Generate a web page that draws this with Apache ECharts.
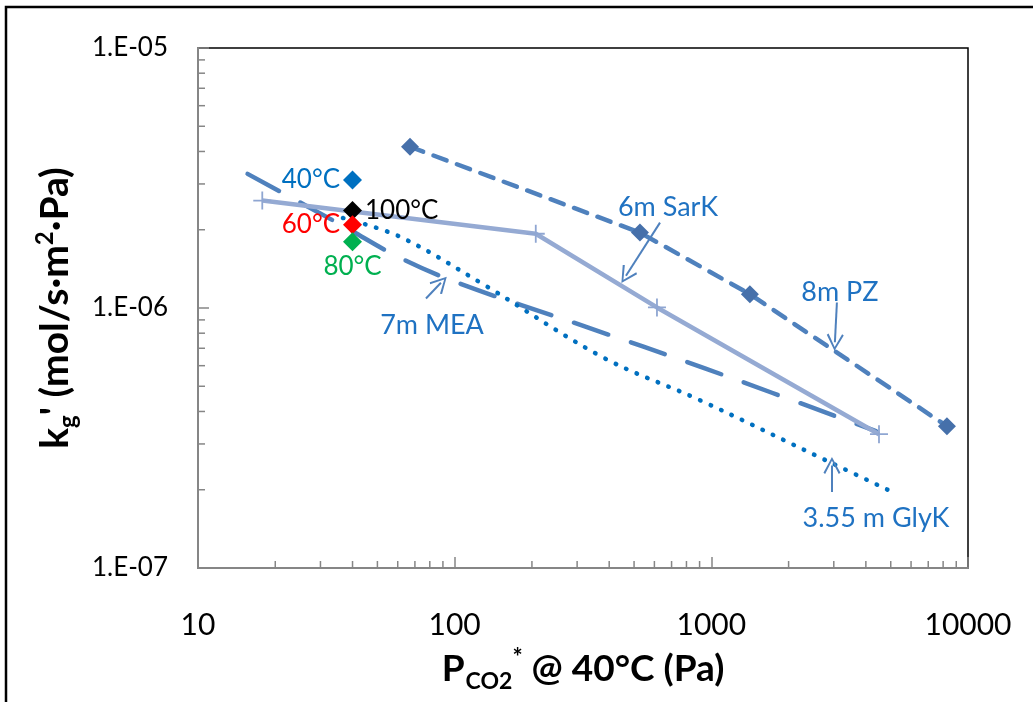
<!DOCTYPE html>
<html>
<head>
<meta charset="utf-8">
<script src="https://cdn.jsdelivr.net/npm/echarts@6/dist/echarts.min.js"></script>
<style>
  html, body { margin: 0; padding: 0; background: #fff; }
  #chart { width: 1033px; height: 702px; }
</style>
</head>
<body>
<div id="chart"></div>
<script>
// 8m PZ
const pzX = [67, 527, 1413, 8280];
const pzY = [4.17e-6, 1.95e-6, 1.13e-6, 3.51e-7];
// 6m SarK
const sarkX = [17.8, 207, 614, 4500];
const sarkY = [2.59e-6, 1.93e-6, 1.005e-6, 3.27e-7];
// 7m MEA
const meaX = [15.6, 36.7, 61.2, 105, 313, 944, 4380];
const meaY = [3.28e-6, 2.07e-6, 1.56e-6, 1.24e-6, 8.57e-7, 5.86e-7, 3.36e-7];
// 3.55 m GlyK
const glyX = [36.7, 61.2, 128, 378, 903, 2900, 5190];
const glyY = [2.22e-6, 1.88e-6, 1.24e-6, 6.46e-7, 4.42e-7, 2.55e-7, 1.94e-7];

// temperature points at 40 Pa
const tempNames = ['40°C', '100°C', '60°C', '80°C'];
const tempX = [40, 40, 40, 40];
const tempY = [3.11e-6, 2.37e-6, 2.09e-6, 1.80e-6];

// annotation texts and arrows (data units)
const noteText = ['6m SarK', '7m MEA', '8m PZ', '3.55 m GlyK'];
const noteX = [678, 81.6, 3170, 4380];
const noteY = [2.45e-6, 8.57e-7, 1.147e-6, 1.556e-7];
const arrowFrom = [[631, 2.13e-6], [77.3, 1.088e-6], [3085, 1.05e-6], [2951, 1.96e-7]];
const arrowTo = [[465, 1.33e-6], [88.4, 1.25e-6], [3030, 7.38e-7], [2951, 2.48e-7]];

const xMin = 10, xMax = 10000, yMin = 1e-7, yMax = 1e-5;
const minorX = [20, 30, 40, 50, 60, 70, 80, 90, 200, 300, 400, 500, 600, 700, 800, 900,
  2000, 3000, 4000, 5000, 6000, 7000, 8000, 9000];
const minorY = [2e-7, 3e-7, 4e-7, 5e-7, 6e-7, 7e-7, 8e-7, 9e-7,
  2e-6, 3e-6, 4e-6, 5e-6, 6e-6, 7e-6, 8e-6, 9e-6];

const tempColors = { '40°C': '#0070C0', '100°C': '#000000', '60°C': '#FF0000', '80°C': '#00B050' };
const tempLabelPos = { '40°C': 'left', '100°C': 'right', '60°C': 'left', '80°C': 'bottom' };

const FONT = 'Lato, "Open Sans", sans-serif';
const axisGray = '#868686';

const zip = (xs, ys) => xs.map((x, i) => [x, ys[i]]);

const chart = echarts.init(document.getElementById('chart'), null, { renderer: 'canvas' });

const plusPath = 'path://M9,0h2v9h9v2h-9v9h-2v-9h-9v-2h9z';
const openArrow = 'path://M0,10 L5,0 L10,10 L9,10.8 L5,2.4 L1,10.8 Z';

const option = {
  animation: false,
  textStyle: { fontFamily: FONT },
  grid: {
    left: 198, top: 48, right: 65, bottom: 134,
    show: true, borderColor: '#000', borderWidth: 1.5, backgroundColor: 'transparent'
  },
  graphic: [{
    type: 'rect',
    shape: { x: 6, y: 7, width: 1200, height: 900 },
    style: { fill: 'none', stroke: '#000', lineWidth: 2.5 },
    silent: true
  }],
  xAxis: {
    type: 'log', logBase: 10, min: xMin, max: xMax,
    name: '{b|P}{sub|CO2}{sup|*}{b| @ 40°C (Pa)}',
    nameLocation: 'middle', nameGap: 78,
    nameTextStyle: {
      rich: {
        b: { fontSize: 37, fontWeight: 'bold', fontFamily: FONT, color: '#000' },
        sub: { fontSize: 23, fontWeight: 'bold', fontFamily: FONT, color: '#000', padding: [24, 0, 0, 1] },
        sup: { fontSize: 24, fontWeight: 'bold', fontFamily: FONT, color: '#000', padding: [0, 0, 22, 0] }
      }
    },
    axisLine: { lineStyle: { color: axisGray, width: 2 } },
    axisTick: { inside: true, length: 11, lineStyle: { color: axisGray, width: 1.5 } },
    axisLabel: {
      fontSize: 30, color: '#000', margin: 42, showMinLabel: true, showMaxLabel: true,
      formatter: v => String(Math.round(v))
    },
    splitLine: { show: false }
  },
  yAxis: {
    type: 'log', logBase: 10, min: yMin, max: yMax,
    name: '{b|k}{sub|g}{b|\' (mol/s·m}{sup|2}{b|·Pa)}',
    nameLocation: 'middle', nameRotate: 90, nameGap: 118,
    nameTextStyle: {
      rich: {
        b: { fontSize: 39, fontWeight: 'bold', fontFamily: FONT, color: '#000' },
        sub: { fontSize: 24, fontWeight: 'bold', fontFamily: FONT, color: '#000', padding: [26, 0, 0, 0] },
        sup: { fontSize: 24, fontWeight: 'bold', fontFamily: FONT, color: '#000', padding: [0, 0, 20, 0] }
      }
    },
    axisLine: { lineStyle: { color: axisGray, width: 2 } },
    axisTick: { inside: true, length: 11, lineStyle: { color: axisGray, width: 1.5 } },
    axisLabel: {
      fontSize: 26, color: '#000', margin: 30, showMinLabel: true, showMaxLabel: true,
      formatter: v => {
        const e = Math.round(Math.log10(v));
        return '1.E' + (e < 0 ? '-' : '+') + String(Math.abs(e)).padStart(2, '0');
      }
    },
    splitLine: { show: false }
  },
  series: [
    {
      name: 'minorX', type: 'custom', silent: true, clip: false, z: 1,
      data: minorX.map(v => [v, yMin]),
      renderItem: (params, api) => {
        const p = api.coord([api.value(0), api.value(1)]);
        return { type: 'line', shape: { x1: p[0], y1: p[1], x2: p[0], y2: p[1] - 7 },
          style: { stroke: axisGray, lineWidth: 1.5 } };
      }
    },
    {
      name: 'minorY', type: 'custom', silent: true, clip: false, z: 1,
      data: minorY.map(v => [xMin, v]),
      renderItem: (params, api) => {
        const p = api.coord([api.value(0), api.value(1)]);
        return { type: 'line', shape: { x1: p[0], y1: p[1], x2: p[0] + 7, y2: p[1] },
          style: { stroke: axisGray, lineWidth: 1.5 } };
      }
    },
    {
      name: '7m MEA', type: 'line', smooth: 0.35, showSymbol: false,
      data: zip(meaX, meaY),
      lineStyle: { color: '#4F81BD', width: 4.5, type: [36, 24], cap: 'round' }
    },
    {
      name: '3.55 m GlyK', type: 'line', smooth: 0.35, showSymbol: false,
      data: zip(glyX, glyY),
      lineStyle: { color: '#0070C0', width: 4.5, type: [0.5, 11], cap: 'round' }
    },
    {
      name: '6m SarK', type: 'line', symbol: plusPath, symbolSize: 18,
      data: zip(sarkX, sarkY),
      itemStyle: { color: '#8FA6D2' },
      lineStyle: { color: '#95AAD3', width: 4.5 }
    },
    {
      name: '8m PZ', type: 'line', symbol: 'diamond', symbolSize: 18,
      data: zip(pzX, pzY),
      itemStyle: { color: '#4670AA' },
      lineStyle: { color: '#4F81BD', width: 4.5, type: [14, 11], cap: 'round' }
    },
    {
      name: 'temps', type: 'scatter', symbol: 'diamond', symbolSize: 19, z: 5,
      data: tempNames.map((n, i) => ({
        name: n, value: [tempX[i], tempY[i]],
        itemStyle: { color: tempColors[n], opacity: 1 },
        label: { show: true, position: tempLabelPos[n], distance: n === '80°C' ? 2 : 3,
          formatter: '{b}', color: tempColors[n], fontSize: 26, fontFamily: FONT }
      }))
    },
    {
      name: 'notes', type: 'scatter', symbolSize: 1, silent: true, z: 6,
      itemStyle: { color: 'rgba(0,0,0,0)', opacity: 1 },
      data: noteText.map((t, i) => ({ name: t, value: [noteX[i], noteY[i]] })),
      label: { show: true, position: 'inside', formatter: '{b}', color: '#1F72C2',
        fontSize: 27, fontFamily: FONT }
    },
    {
      name: 'arrows', type: 'lines', coordinateSystem: 'cartesian2d', silent: true, z: 4,
      symbol: ['none', openArrow], symbolSize: [0, 17],
      lineStyle: { color: '#4F81BD', width: 2, opacity: 1 },
      data: arrowFrom.map((f, i) => ({ coords: [f, arrowTo[i]] }))
    }
  ]
};

chart.setOption(option);
</script>
</body>
</html>
